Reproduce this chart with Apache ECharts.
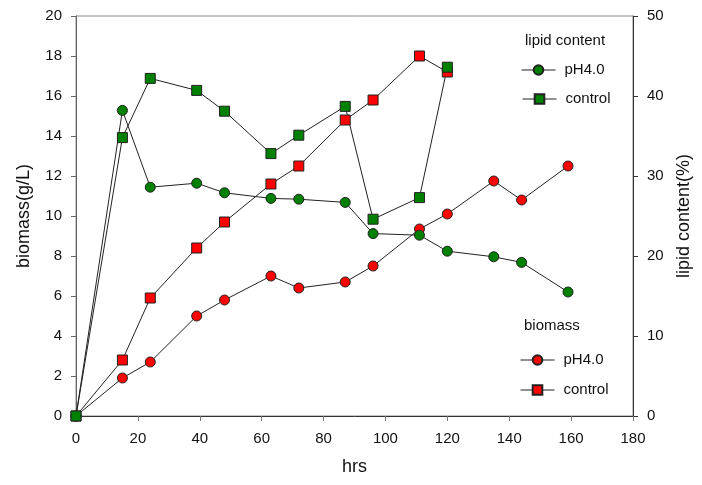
<!DOCTYPE html>
<html>
<head>
<meta charset="utf-8">
<script src="https://cdn.jsdelivr.net/npm/echarts@6/dist/echarts.min.js"></script>
<style>
  html, body { margin: 0; padding: 0; background: #fff; }
  #chart { width: 702px; height: 485px; }
</style>
</head>
<body>
<div id="chart"></div>
<script>
// Sampling times (hrs)
const hrsPh = [0, 15, 24, 39, 48, 63, 72, 87, 96, 111, 120, 135, 144, 159];
const hrsControl = [0, 15, 24, 39, 48, 63, 72, 87, 96, 111, 120];

// Biomass (g/L), left axis
const biomassPh = [0, 1.9, 2.7, 5.0, 5.8, 7.0, 6.4, 6.7, 7.5, 9.35, 10.1, 11.75, 10.8, 12.5];
const biomassControl = [0, 2.8, 5.9, 8.4, 9.7, 11.6, 12.5, 14.8, 15.8, 18.0, 17.2];

// Lipid content (%), right axis
const lipidPh = [0, 38.2, 28.6, 29.1, 27.9, 27.2, 27.1, 26.7, 22.8, 22.6, 20.6, 19.9, 19.2, 15.5];
const lipidControl = [0, 34.8, 42.2, 40.7, 38.1, 32.8, 35.1, 38.7, 24.6, 27.3, 43.6];

const legendNames = {
  biomassPh: 'pH4.0', biomassControl: 'control',
  lipidPh: 'pH4.0', lipidControl: 'control'
};

const FONT = 'Liberation Sans, Arial, sans-serif';
const pairs = (xs, ys) => xs.map((x, i) => [x, ys[i]]);

const lineStyle = { color: '#222', width: 1 };
function series(name, xs, ys, yIdx, symbol, fill, size) {
  return {
    name, type: 'line', yAxisIndex: yIdx,
    data: pairs(xs, ys),
    symbol, symbolSize: size, showAllSymbol: true,
    lineStyle,
    itemStyle: { color: fill, borderColor: '#222', borderWidth: 1 },
    emphasis: { disabled: true },
    animation: false
  };
}

function legend(name, left, centerY) {
  return {
    data: [name], left, top: centerY - 8, padding: 0,
    itemWidth: 34, itemHeight: 12,
    selectedMode: false,
    lineStyle: { width: 1, color: '#222' },
    formatter: n => legendNames[n],
    textStyle: { fontFamily: FONT, fontSize: 15, color: '#111', lineHeight: 16, padding: [0, 0, 0, 4] }
  };
}

const chart = echarts.init(document.getElementById('chart'), null, { renderer: 'canvas' });
chart.setOption({
  backgroundColor: '#fff',
  animation: false,
  grid: { left: 76, right: 69, top: 16, bottom: 69, show: true, borderColor: '#888', borderWidth: 1 },
  xAxis: {
    type: 'value', min: 0, max: 180, interval: 20,
    name: 'hrs', nameLocation: 'middle', nameGap: 42,
    nameTextStyle: { fontFamily: FONT, fontSize: 18, color: '#111' },
    axisLine: { show: true, onZero: false, lineStyle: { color: '#333' } },
    axisTick: { show: true, inside: false, length: 5, lineStyle: { color: '#777' } },
    axisLabel: { fontFamily: FONT, fontSize: 15, color: '#111', margin: 15 },
    splitLine: { show: false }
  },
  yAxis: [
    {
      type: 'value', min: 0, max: 20, interval: 2, position: 'left',
      name: 'biomass(g/L)', nameLocation: 'middle', nameRotate: 90, nameGap: 43,
      nameTextStyle: { fontFamily: FONT, fontSize: 18, color: '#111' },
      axisLine: { show: true, lineStyle: { color: '#666' } },
      axisTick: { show: true, inside: false, length: 5, lineStyle: { color: '#666' } },
      axisLabel: { fontFamily: FONT, fontSize: 15, color: '#111', margin: 14 },
      splitLine: { show: false }
    },
    {
      type: 'value', min: 0, max: 50, interval: 10, position: 'right',
      name: 'lipid content(%)', nameLocation: 'middle', nameRotate: 90, nameGap: 41,
      nameTextStyle: { fontFamily: FONT, fontSize: 18, color: '#111' },
      axisLine: { show: true, lineStyle: { color: '#333' } },
      axisTick: { show: true, inside: false, length: 5, lineStyle: { color: '#333' } },
      axisLabel: { fontFamily: FONT, fontSize: 15, color: '#111', margin: 14 },
      splitLine: { show: false }
    }
  ],
  legend: [
    legend('lipidPh', 521, 70),
    legend('lipidControl', 522, 99),
    legend('biomassPh', 520, 360),
    legend('biomassControl', 520, 390)
  ],
  graphic: [
    { type: 'text', left: 525, top: 33, style: { text: 'lipid content', fontFamily: FONT, fontSize: 15, fill: '#111' } },
    { type: 'text', left: 524, top: 318, style: { text: 'biomass', fontFamily: FONT, fontSize: 15, fill: '#111' } }
  ],
  series: [
    series('biomassPh', hrsPh, biomassPh, 0, 'circle', '#ff0000', 10),
    series('biomassControl', hrsControl, biomassControl, 0, 'rect', '#ff0000', 10),
    series('lipidPh', hrsPh, lipidPh, 1, 'circle', '#008000', 10),
    series('lipidControl', hrsControl, lipidControl, 1, 'rect', '#008000', 10)
  ]
});
</script>
</body>
</html>
